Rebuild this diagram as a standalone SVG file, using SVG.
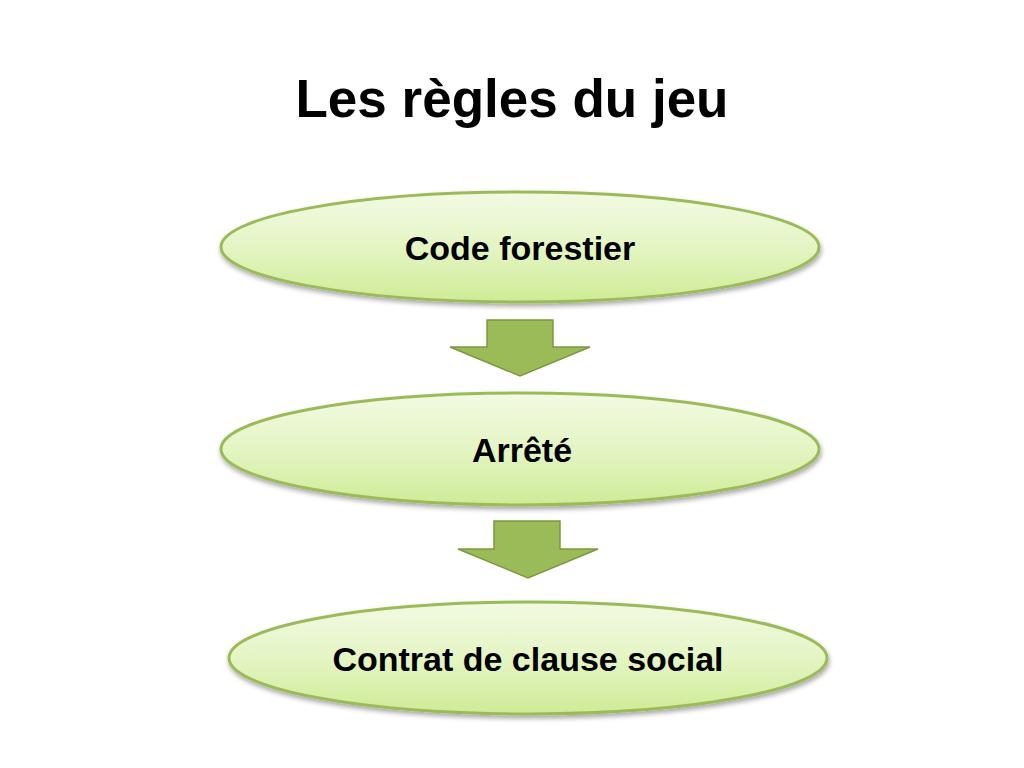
<svg xmlns="http://www.w3.org/2000/svg" width="1024" height="768" viewBox="0 0 1024 768">
<defs>
<linearGradient id="g" x1="0" y1="0" x2="0" y2="1">
<stop offset="0" stop-color="#f2fae3"/>
<stop offset="0.5" stop-color="#e4f5c4"/>
<stop offset="1" stop-color="#cfeb96"/>
</linearGradient>
<filter id="sh" x="-10%" y="-20%" width="120%" height="150%">
<feGaussianBlur in="SourceAlpha" stdDeviation="2.5"/>
<feOffset dx="1" dy="3" result="b"/>
<feComponentTransfer><feFuncA type="linear" slope="0.35"/></feComponentTransfer>
<feMerge><feMergeNode/><feMergeNode in="SourceGraphic"/></feMerge>
</filter>
</defs>
<style>
.node{fill:url(#g);stroke:#9bbb59;stroke-width:3;filter:url(#sh)}
.arr{fill:#9bbb59;stroke:#7a9a3e;stroke-width:1.5;stroke-linejoin:miter}
.lbl{font-family:"Liberation Sans",Arial,sans-serif;font-weight:bold;font-size:34px;fill:#000;text-anchor:middle}
.title{font-family:"Liberation Sans",Arial,sans-serif;font-weight:bold;font-size:53px;fill:#000;text-anchor:middle}
</style>
<rect width="1024" height="768" fill="#fff"/>
<text class="title" x="512" y="117">Les règles du jeu</text>
<g id="connectors">
<polygon class="arr" points="487,320 553,320 553,347 590,347 520,376 450,347 487,347"/>
<polygon class="arr" points="494,521 560,521 560,549 598,549 528,578 458,549 494,549"/>
</g>
<g id="node1">
<ellipse class="node" cx="520" cy="247" rx="299" ry="55"/>
<text class="lbl" x="520" y="260">Code forestier</text>
</g>
<g id="node2">
<ellipse class="node" cx="520" cy="449" rx="299" ry="56"/>
<text class="lbl" x="522" y="462">Arrêté</text>
</g>
<g id="node3">
<ellipse class="node" cx="528" cy="658" rx="299" ry="56"/>
<text class="lbl" x="528" y="671">Contrat de clause social</text>
</g>
</svg>
